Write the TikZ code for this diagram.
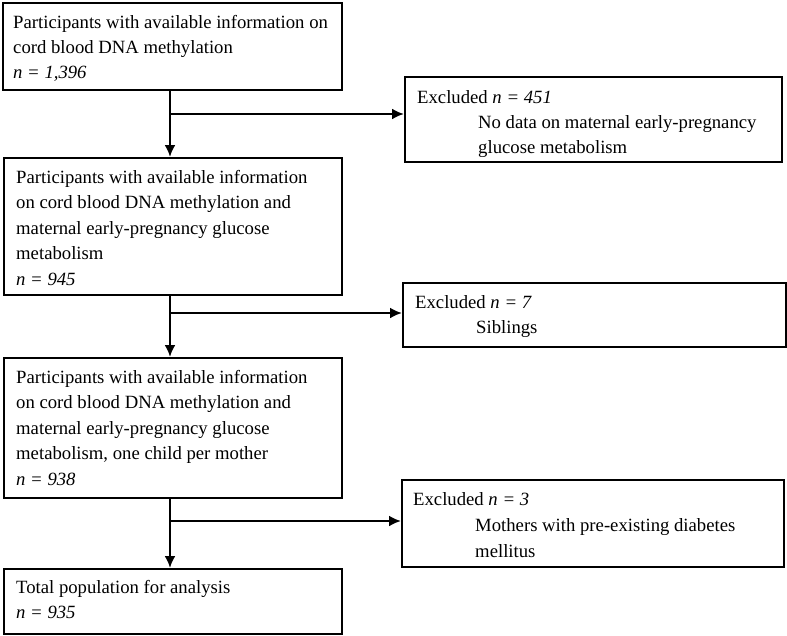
\documentclass[tikz,border=0pt]{standalone}
\usepackage{fontspec}
\setmainfont{Liberation Serif}
\usetikzlibrary{arrows.meta}
\begin{document}
\begin{tikzpicture}[x=1pt,y=-1pt,
  boxnode/.style={draw=black,line width=1.7pt,rectangle,inner sep=0pt,anchor=north west},
  txt/.style={anchor=base west,inner sep=0pt,font=\fontsize{18.7}{25.5}\selectfont},
  arr/.style={line width=2.3pt,-{Latex[length=12pt,width=11pt]}}]
\useasboundingbox (0,0) rectangle (787,635);
% main boxes
\node[boxnode,minimum width=339pt,minimum height=87pt] (b1) at (2,2) {};
\node[boxnode,minimum width=338pt,minimum height=137pt] (b2) at (3,157) {};
\node[boxnode,minimum width=338pt,minimum height=140pt] (b3) at (3,357) {};
\node[boxnode,minimum width=338pt,minimum height=65pt] (b4) at (3,568) {};
% exclusion boxes
\node[boxnode,minimum width=377pt,minimum height=85pt] (e1) at (404,76) {};
\node[boxnode,minimum width=383pt,minimum height=64pt] (e2) at (402,282) {};
\node[boxnode,minimum width=382pt,minimum height=87pt] (e3) at (401,479) {};
% texts box 1
\node[txt] (t11) at (13,28) {Participants with available information on};
\node[txt] (t12) at (13,53) {cord blood DNA methylation};
\node[txt] (t13) at (13,78) {\textit{n = 1,396}};
% texts box 2
\node[txt] (t21) at (16,183) {Participants with available information};
\node[txt] (t22) at (16,208.5) {on cord blood DNA methylation and};
\node[txt] (t23) at (16,234) {maternal early-pregnancy glucose};
\node[txt] (t24) at (16,259.5) {metabolism};
\node[txt] (t25) at (16,285) {\textit{n = 945}};
% texts box 3
\node[txt] (t31) at (16,383) {Participants with available information};
\node[txt] (t32) at (16,408.5) {on cord blood DNA methylation and};
\node[txt] (t33) at (16,434) {maternal early-pregnancy glucose};
\node[txt] (t34) at (16,459.5) {metabolism, one child per mother};
\node[txt] (t35) at (16,485) {\textit{n = 938}};
% texts box 4
\node[txt] (t41) at (16,593) {Total population for analysis};
\node[txt] (t42) at (16,618) {\textit{n = 935}};
% exclusion texts
\node[txt] (s11) at (417,103) {Excluded \textit{n = 451}};
\node[txt] (s12) at (478,128) {No data on maternal early-pregnancy};
\node[txt] (s13) at (478,153) {glucose metabolism};
\node[txt] (s21) at (415,308) {Excluded \textit{n = 7}};
\node[txt] (s22) at (476,333) {Siblings};
\node[txt] (s31) at (413,505) {Excluded \textit{n = 3}};
\node[txt] (s32) at (475,531) {Mothers with pre-existing diabetes};
\node[txt] (s33) at (475,557) {mellitus};
% junctions
\coordinate (j1) at (170,114);
\coordinate (j2) at (170,313);
\coordinate (j3) at (170,521);
% connectors
\draw[arr] (b1.south -| j1) -- (b2.north -| j1);
\draw[arr] (j1) -- (j1 -| e1.west);
\draw[arr] (b2.south -| j2) -- (b3.north -| j2);
\draw[arr] (j2) -- (j2 -| e2.west);
\draw[arr] (b3.south -| j3) -- (b4.north -| j3);
\draw[arr] (j3) -- (j3 -| e3.west);
\end{tikzpicture}
\end{document}
